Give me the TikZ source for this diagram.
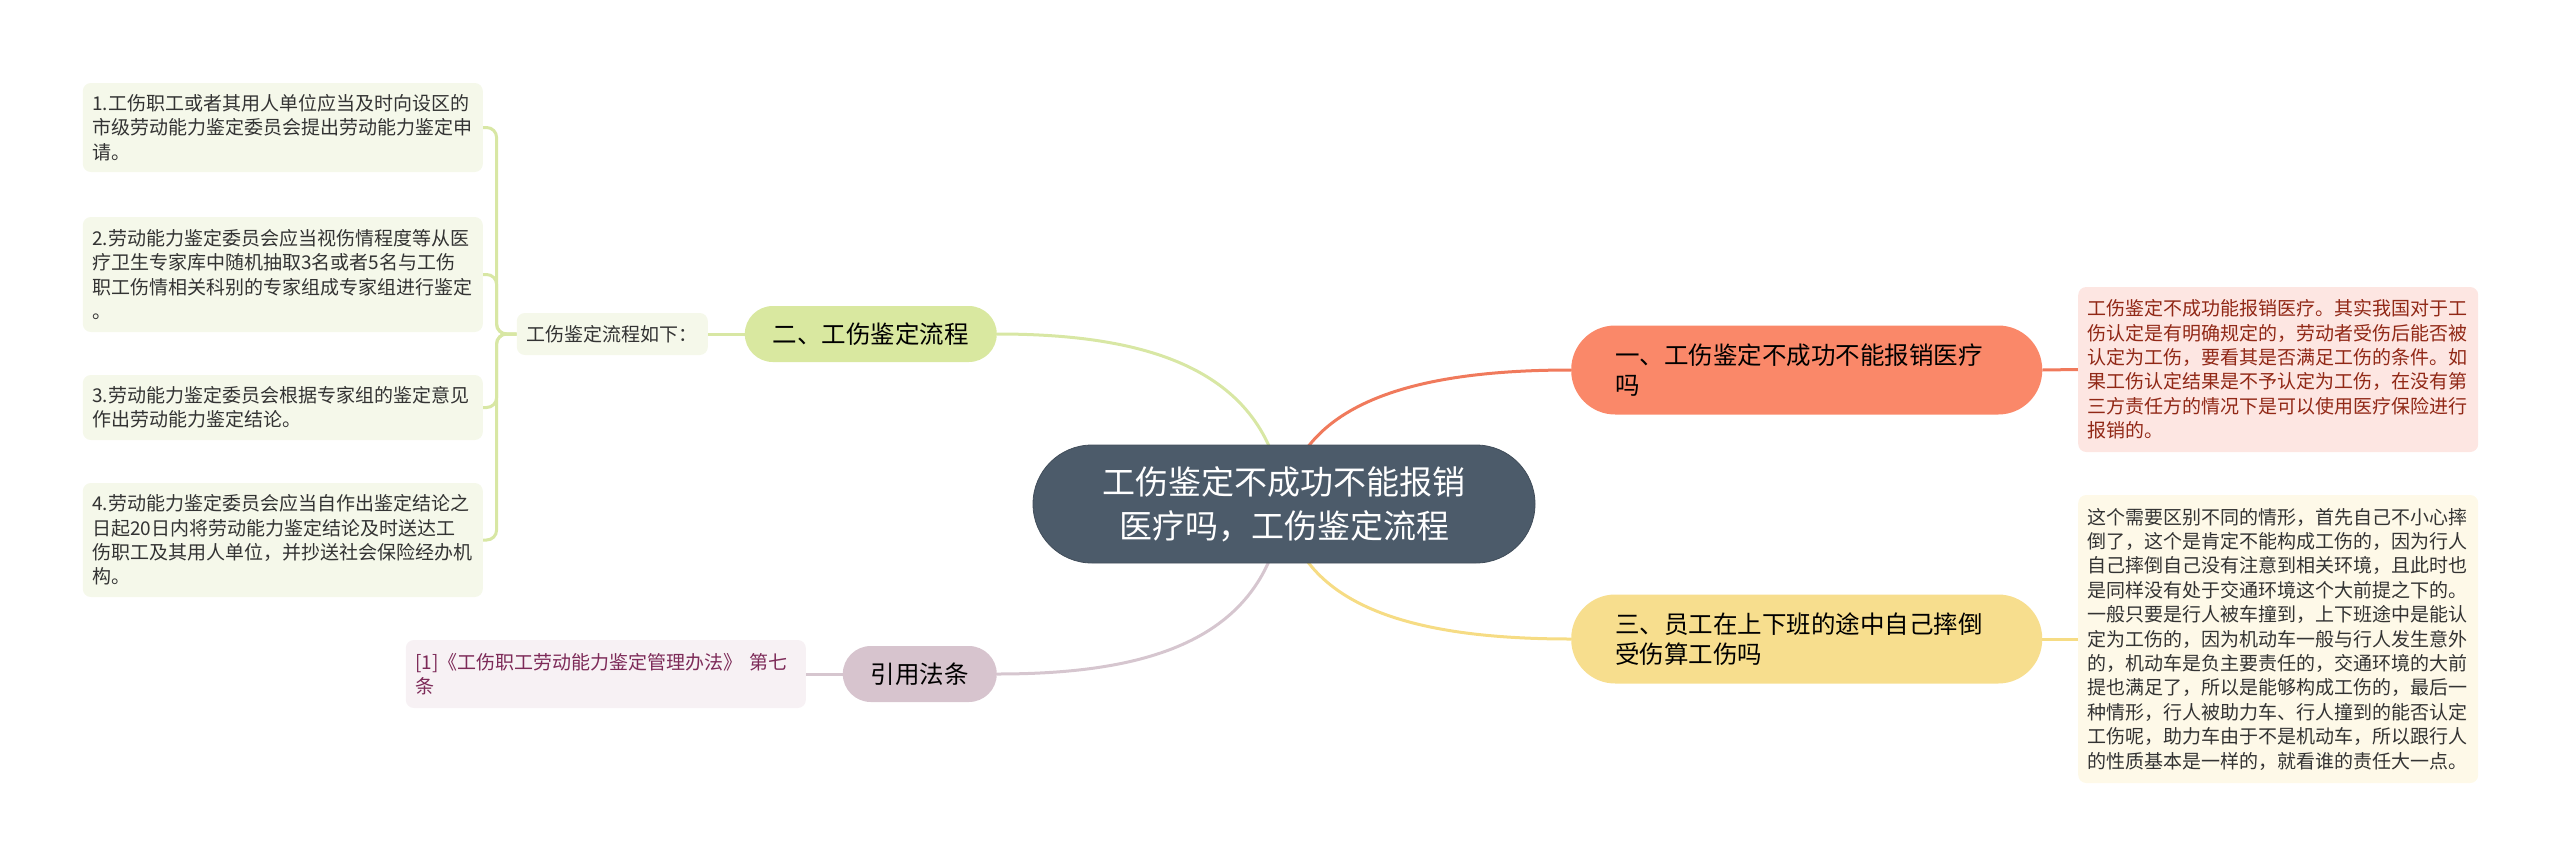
\documentclass[tikz,border=0pt]{standalone}
\usepackage{fontspec}
\setmainfont{Noto Sans CJK SC}
\usepackage{xcolor}
\usetikzlibrary{positioning,backgrounds}
\definecolor{rootslate}{RGB}{76,91,106}
\definecolor{orangefill}{RGB}{250,136,105}
\definecolor{orangeline}{RGB}{240,122,92}
\definecolor{pinkbox}{RGB}{253,230,226}
\definecolor{pinktext}{RGB}{145,40,22}
\definecolor{yellowfill}{RGB}{247,222,142}
\definecolor{yellowline}{RGB}{246,220,132}
\definecolor{yellowbox}{RGB}{254,249,232}
\definecolor{greenfill}{RGB}{217,232,160}
\definecolor{greenline}{RGB}{216,231,164}
\definecolor{greenbox}{RGB}{245,248,234}
\definecolor{mauvefill}{RGB}{215,196,206}
\definecolor{mauveline}{RGB}{214,198,207}
\definecolor{mauvebox}{RGB}{247,241,244}
\definecolor{mauvetext}{RGB}{125,42,88}
\definecolor{bodytext}{RGB}{51,51,51}

\begin{document}
\begin{tikzpicture}[
    x=1pt, y=-1pt,
    rootnode/.style={fill=rootslate, draw=rootslate!85!black, line width=0.8pt, text=white,
        rounded corners=59pt, minimum width=502pt, minimum height=118pt, align=center,
        font=\fontsize{33}{44}\selectfont},
    branch/.style={rounded corners=28pt, minimum height=56pt, inner xsep=28pt,
        text=black, font=\fontsize{24.5}{30}\selectfont},
    widebranch/.style={rounded corners=44pt, minimum height=89pt, text width=383pt,
        inner xsep=44pt, align=left, text=black, font=\fontsize{24.5}{30}\selectfont},
    detail/.style={rounded corners=8pt, inner xsep=9.5pt, inner ysep=4pt, text width=381pt,
        align=left, font=\fontsize{19}{24.4}\selectfont},
    conn/.style={line width=3pt},
]
    % centre
    \node[rootnode] (root) at (1284,504) {工伤鉴定不成功不能报销\\医疗吗，工伤鉴定流程};

    % right side: branch one
    \node[widebranch, fill=orangefill, anchor=west] (one) at (1571,370) {一、工伤鉴定不成功不能报销医疗\\吗};
    \node[detail, fill=pinkbox, text=pinktext, minimum height=165pt, anchor=west] (onetxt) at (2078,369.5)
        {工伤鉴定不成功能报销医疗。其实我国对于工\\伤认定是有明确规定的，劳动者受伤后能否被\\认定为工伤，要看其是否满足工伤的条件。如\\果工伤认定结果是不予认定为工伤，在没有第\\三方责任方的情况下是可以使用医疗保险进行\\报销的。};

    % right side: branch three
    \node[widebranch, fill=yellowfill, anchor=west] (three) at (1571,639) {三、员工在上下班的途中自己摔倒\\受伤算工伤吗};
    \node[detail, fill=yellowbox, text=bodytext, minimum height=288pt, anchor=west] (threetxt) at (2078,639)
        {这个需要区别不同的情形，首先自己不小心摔\\倒了，这个是肯定不能构成工伤的，因为行人\\自己摔倒自己没有注意到相关环境，且此时也\\是同样没有处于交通环境这个大前提之下的。\\一般只要是行人被车撞到，上下班途中是能认\\定为工伤的，因为机动车一般与行人发生意外\\的，机动车是负主要责任的，交通环境的大前\\提也满足了，所以是能够构成工伤的，最后一\\种情形，行人被助力车、行人撞到的能否认定\\工伤呢，助力车由于不是机动车，所以跟行人\\的性质基本是一样的，就看谁的责任大一点。};

    % left side: branch two and its steps
    \node[branch, fill=greenfill, anchor=east] (two) at (997,334) {二、工伤鉴定流程};
    \node[rounded corners=8pt, fill=greenbox, text=bodytext, minimum height=42pt, inner xsep=10pt,
        font=\fontsize{19}{24.4}\selectfont, anchor=east] (flow) at (708,334) {工伤鉴定流程如下：};
    \node[detail, fill=greenbox, text=bodytext, minimum height=89pt, anchor=east] (step1) at (483,127.5)
        {1.工伤职工或者其用人单位应当及时向设区的\\市级劳动能力鉴定委员会提出劳动能力鉴定申\\请。};
    \node[detail, fill=greenbox, text=bodytext, minimum height=115pt, anchor=east] (step2) at (483,274.5)
        {2.劳动能力鉴定委员会应当视伤情程度等从医\\疗卫生专家库中随机抽取3名或者5名与工伤\\职工伤情相关科别的专家组成专家组进行鉴定\\。};
    \node[detail, fill=greenbox, text=bodytext, minimum height=65pt, anchor=east] (step3) at (483,407.5)
        {3.劳动能力鉴定委员会根据专家组的鉴定意见\\作出劳动能力鉴定结论。};
    \node[detail, fill=greenbox, text=bodytext, minimum height=114pt, anchor=east] (step4) at (483,540)
        {4.劳动能力鉴定委员会应当自作出鉴定结论之\\日起20日内将劳动能力鉴定结论及时送达工\\伤职工及其用人单位，并抄送社会保险经办机\\构。};

    % left side: cited law
    \node[branch, fill=mauvefill, anchor=east] (law) at (997,674) {引用法条};
    \node[detail, fill=mauvebox, text=mauvetext, minimum height=68pt, anchor=east] (lawtxt) at (806,674)
        {[1]《工伤职工劳动能力鉴定管理办法》 第七\\条};

    % connectors behind the nodes
    \begin{scope}[on background layer]
        \draw[conn, greenline] (root.center) .. controls (1270,370) and (1150,334) .. (two.east);
        \draw[conn, orangeline] (root.center) .. controls (1300,400) and (1420,370) .. (one.west);
        \draw[conn, yellowline] (root.center) .. controls (1300,610) and (1420,639) .. (three.west);
        \draw[conn, mauveline] (root.center) .. controls (1268,640) and (1150,674) .. (law.east);
        \draw[conn, orangeline] (one.east) -- (onetxt.west);
        \draw[conn, yellowline] (three.east) -- (threetxt.west);
        \draw[conn, greenline] (two.west) -- (flow.east);
        \draw[conn, mauveline] (law.west) -- (lawtxt.east);
        \foreach \s in {step1,step2,step3,step4}
            \draw[conn, greenline, rounded corners=10pt] (flow.west) -- ++(-20,0) |- (\s.east);
    \end{scope}

    \useasboundingbox (0,0) rectangle (2560,865);
\end{tikzpicture}
\end{document}
